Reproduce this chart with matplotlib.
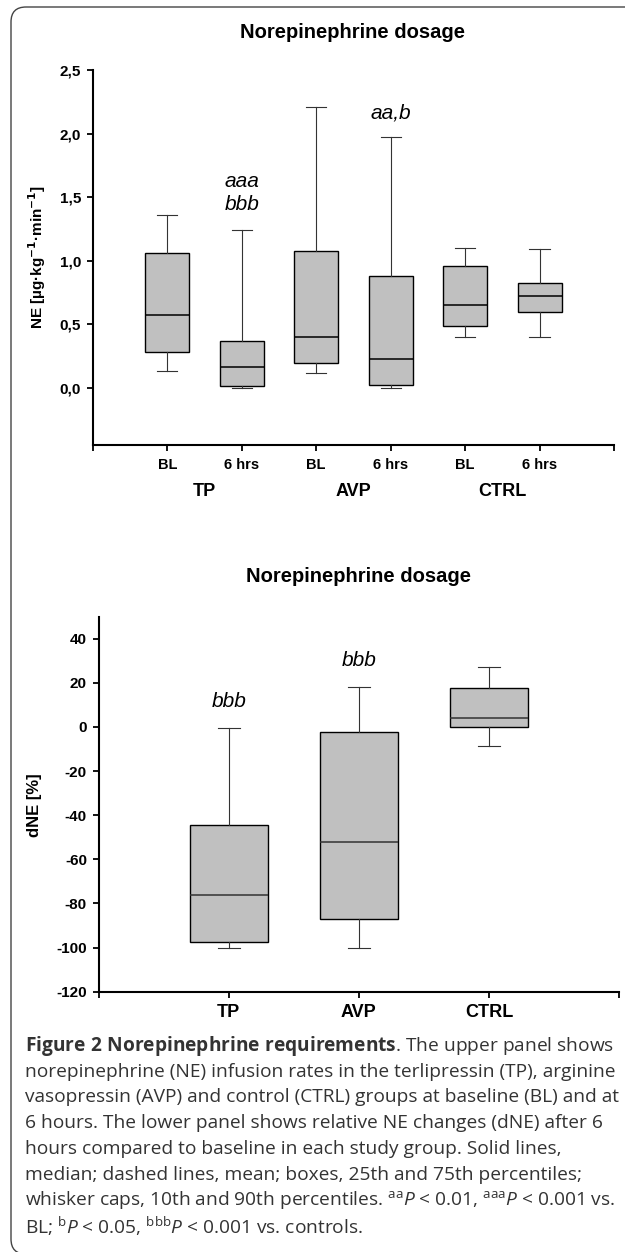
import matplotlib
matplotlib.use("Agg")
import matplotlib.pyplot as plt
import matplotlib.transforms as mtransforms
from matplotlib.patches import FancyBboxPatch

plt.rcParams['mathtext.fontset'] = 'custom'
plt.rcParams['mathtext.rm'] = 'Open Sans'
plt.rcParams['mathtext.it'] = 'Open Sans:italic'
plt.rcParams['mathtext.bf'] = 'Open Sans:bold'

# ---------------- data ----------------
top_title = "Norepinephrine dosage"
bottom_title = "Norepinephrine dosage"
time_labels = ["BL", "6 hrs", "BL", "6 hrs", "BL", "6 hrs"]
groups = ["TP", "AVP", "CTRL"]

ne_whishi = [1.36, 1.24, 2.21, 1.97, 1.10, 1.09]
ne_q3 = [1.06, 0.37, 1.075, 0.88, 0.955, 0.825]
ne_med = [0.57, 0.16, 0.40, 0.225, 0.655, 0.725]
ne_q1 = [0.285, 0.013, 0.195, 0.025, 0.485, 0.595]
ne_whislo = [0.135, 0.0, 0.115, 0.0, 0.40, 0.40]
ne_ticks = [0.0, 0.5, 1.0, 1.5, 2.0, 2.5]
ne_ticklabels = ["0,0", "0,5", "1,0", "1,5", "2,0", "2,5"]

dne_whishi = [-0.3, 18.2, 27.0]
dne_q3 = [-44.5, -2.4, 17.5]
dne_med = [-76.3, -52.2, 4.0]
dne_q1 = [-97.5, -87.0, 0.0]
dne_whislo = [-100.0, -100.0, -8.8]
dne_ticks = [-120, -100, -80, -60, -40, -20, 0, 20, 40]

top_annots = [(2, 1.62, "aaa"), (2, 1.44, "bbb"), (4, 2.16, "aa,b")]
bottom_annots = [(1, 11.5, "bbb"), (2, 30.2, "bbb")]

caption_lines = [
    r"$\mathbf{Figure\ 2\ Norepinephrine\ requirements}$. The upper panel shows",
    "norepinephrine (NE) infusion rates in the terlipressin (TP), arginine",
    "vasopressin (AVP) and control (CTRL) groups at baseline (BL) and at",
    "6 hours. The lower panel shows relative NE changes (dNE) after 6",
    "hours compared to baseline in each study group. Solid lines,",
    "median; dashed lines, mean; boxes, 25th and 75th percentiles;",
    r"whisker caps, 10th and 90th percentiles. ${}^{\mathrm{aa}}\mathit{P}$ < 0.01, ${}^{\mathrm{aaa}}\mathit{P}$ < 0.001 vs.",
    r"BL; ${}^{\mathrm{b}}\mathit{P}$ < 0.05, ${}^{\mathrm{bbb}}\mathit{P}$ < 0.001 vs. controls.",
]

# ---------------- figure ----------------
W, H = 625, 1252
fig = plt.figure(figsize=(W / 100, H / 100), dpi=100)
fig.patch.set_facecolor("white")

def fx(x):
    return x / W

def fy(y):
    return 1 - y / H

SANS = ["Liberation Sans", "DejaVu Sans"]
BOX_FC = "#c0c0c0"


def style_axes(ax):
    for s in ["top", "right"]:
        ax.spines[s].set_visible(False)
    for s in ["left", "bottom"]:
        ax.spines[s].set_linewidth(1.5)
        ax.spines[s].set_color("black")
    ax.tick_params(direction="out", length=4.5, width=1.3, colors="black")


def make_stats(lo, q1, med, q3, hi):
    return [dict(whislo=a, q1=b, med=c, q3=d, whishi=e, fliers=[])
            for a, b, c, d, e in zip(lo, q1, med, q3, hi)]

# ---- top panel ----
ax1 = fig.add_axes([fx(92.8), fy(445), fx(614 - 92.8), (445 - 70) / H])
style_axes(ax1)
pos1 = list(range(1, len(ne_med) + 1))
ax1.bxp(make_stats(ne_whislo, ne_q1, ne_med, ne_q3, ne_whishi), positions=pos1,
        widths=0.59, patch_artist=True, showfliers=False,
        boxprops=dict(facecolor=BOX_FC, edgecolor="black", linewidth=1.0),
        medianprops=dict(color="black", linewidth=1.1),
        whiskerprops=dict(color="#333333", linewidth=0.8),
        capprops=dict(color="#333333", linewidth=0.8), capwidths=0.27)
ax1.set_xlim(0, 7)
ax1.set_ylim(-0.45, 2.5)
ax1.set_xticks(range(0, 8))
ax1.set_xticklabels([""] + time_labels + [""], fontsize=10.5, fontweight="bold", family=SANS)
ax1.set_yticks(ne_ticks)
ax1.set_yticklabels(ne_ticklabels, fontsize=11, fontweight="bold", family=SANS)
ax1.tick_params(axis="x", pad=5)
ax1.tick_params(axis="y", pad=4)
for x, y, t in top_annots:
    ax1.text(x, y, t, ha="center", va="center", fontsize=15, style="italic", family=SANS)
tr1 = mtransforms.blended_transform_factory(ax1.transData, fig.transFigure)
for i, g in enumerate(groups):
    ax1.text(2 * i + 1.5, fy(492), g, transform=tr1, ha="center", va="center",
             fontsize=13, fontweight="bold", family=SANS)
fig.text(fx(37), fy(257), r"NE [µg·kg$^{\mathbf{-1}}$·min$^{\mathbf{-1}}$]", rotation=90,
         ha="center", va="center", fontsize=11, fontweight="bold", family=SANS,
         math_fontfamily="dejavusans")
fig.text(fx(353), fy(33), top_title, ha="center", va="center", fontsize=14.5,
         fontweight="bold", family=SANS)

# ---- bottom panel ----
ax2 = fig.add_axes([fx(98.8), fy(991.7), fx(619 - 98.8), (991.7 - 616.7) / H])
style_axes(ax2)
pos2 = list(range(1, len(dne_med) + 1))
ax2.bxp(make_stats(dne_whislo, dne_q1, dne_med, dne_q3, dne_whishi), positions=pos2,
        widths=0.6, patch_artist=True, showfliers=False,
        boxprops=dict(facecolor=BOX_FC, edgecolor="black", linewidth=1.0),
        medianprops=dict(color="#333333", linewidth=1.1),
        whiskerprops=dict(color="#333333", linewidth=0.8),
        capprops=dict(color="#333333", linewidth=0.8), capwidths=0.165)
ax2.set_xlim(0, 4)
ax2.set_ylim(-120, 50)
ax2.set_xticks(range(0, 5))
ax2.set_xticklabels([""] + groups + [""], fontsize=13, fontweight="bold", family=SANS)
ax2.set_yticks(dne_ticks)
ax2.set_yticklabels([str(v) for v in dne_ticks], fontsize=11, fontweight="bold", family=SANS)
ax2.tick_params(axis="x", pad=4.5)
ax2.tick_params(axis="y", pad=4)
for x, y, t in bottom_annots:
    ax2.text(x, y, t, ha="center", va="center", fontsize=15, style="italic", family=SANS)
fig.text(fx(35), fy(805), "dNE [%]", rotation=90, ha="center", va="center",
         fontsize=12, fontweight="bold", family=SANS)
fig.text(fx(359), fy(576.7), bottom_title, ha="center", va="center", fontsize=14.5,
         fontweight="bold", family=SANS)

# ---- caption ----
for i, line in enumerate(caption_lines):
    fig.text(fx(25), fy(1046 + i * 25.7), line, ha="left", va="center",
             fontsize=13.8, family=["Open Sans", "DejaVu Sans"], color="#333333")

# ---- rounded border ----
border = FancyBboxPatch((11, -2), 720, 1247, boxstyle="round,pad=0,rounding_size=15",
                        transform=mtransforms.IdentityTransform(), fill=False,
                        edgecolor="#444444", linewidth=1.0)
fig.add_artist(border)

fig.savefig("out.png", dpi=100)
